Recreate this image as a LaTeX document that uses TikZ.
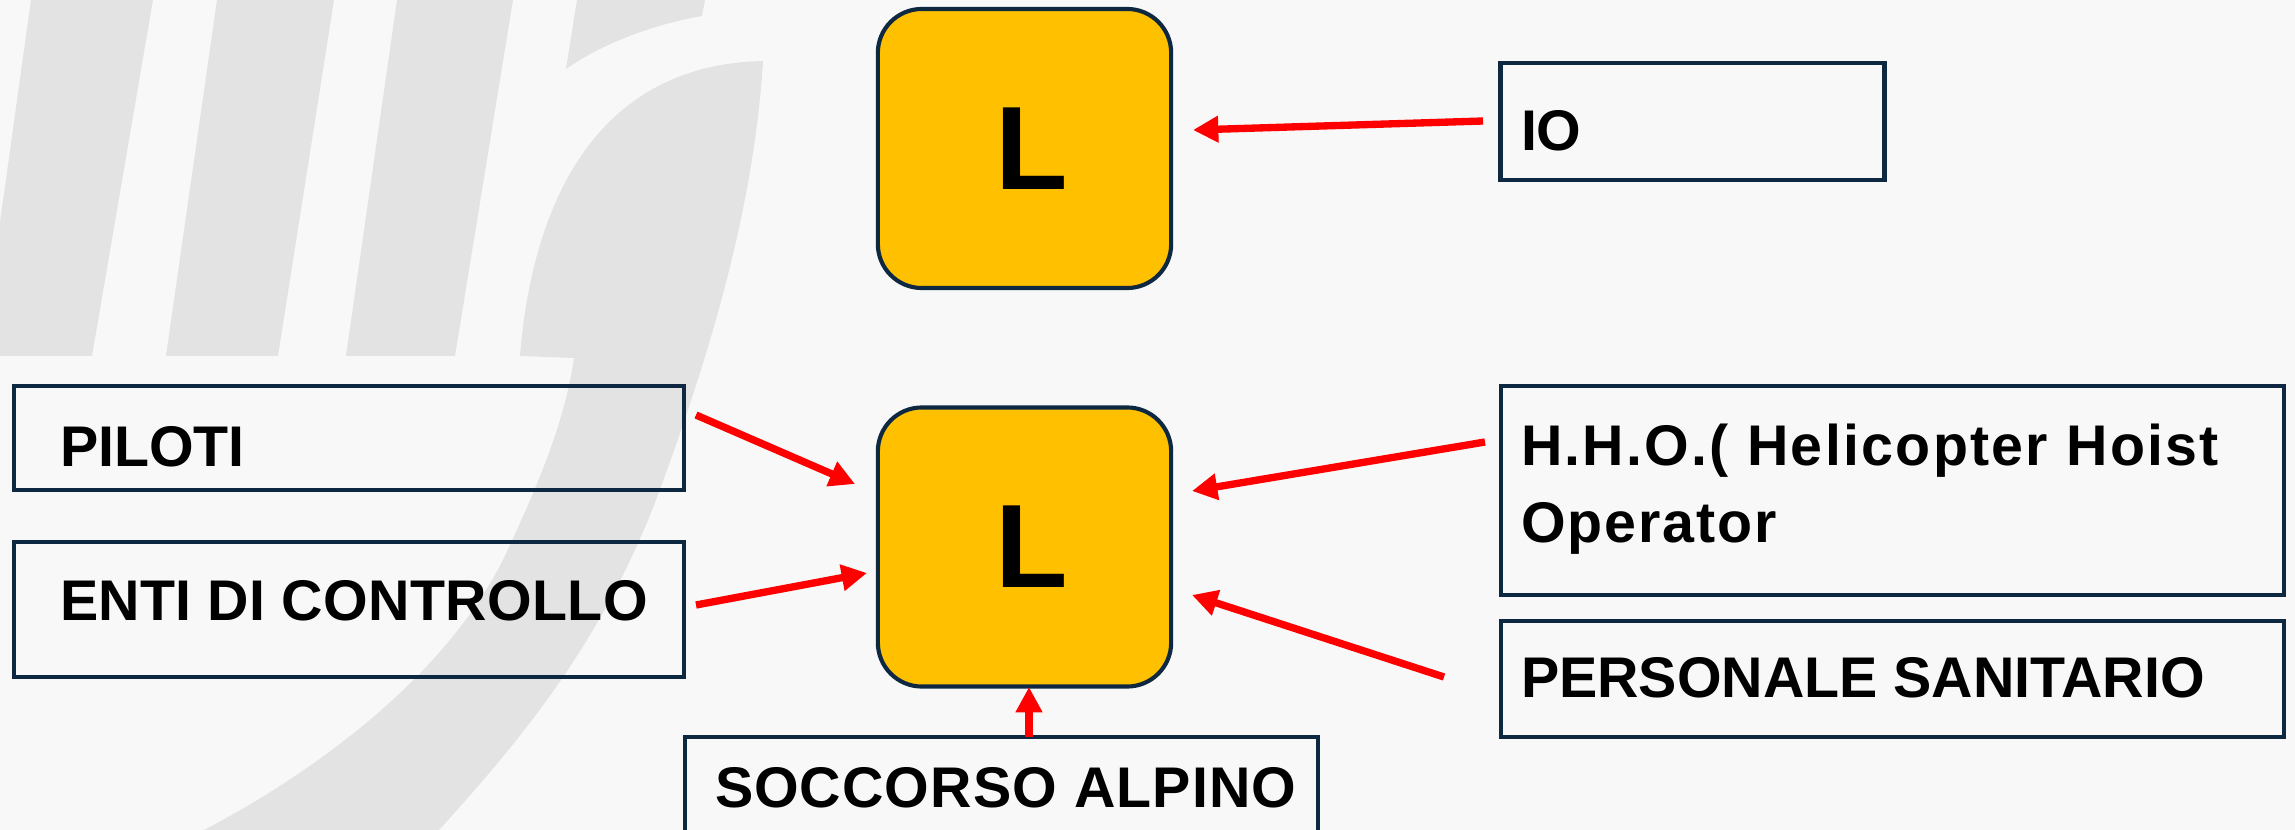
\documentclass[tikz,border=0pt]{standalone}
\usepackage{xcolor}
\usepackage{tikz}
\usepackage{fontspec}
\setmainfont{Liberation Sans}
\usetikzlibrary{arrows.meta}

\definecolor{pagebg}{RGB}{248,248,248}
\definecolor{markgray}{RGB}{227,227,227}
\definecolor{boxline}{RGB}{14,40,65}
\definecolor{amber}{RGB}{255,192,0}

\tikzset{
  labelbox/.style={draw=boxline,line width=3.1pt,inner sep=0pt,outer sep=0pt},
  labeltext/.style={inner sep=0pt,outer sep=0pt,anchor=base west,font=\fontsize{43}{57.75}\selectfont\bfseries,align=left,text=black},
  levelbox/.style={labelbox,fill=amber,rounded corners=33pt,minimum width=220pt,minimum height=209.3pt,font=\fontsize{89}{89}\selectfont\bfseries,text=black},
  redarrow/.style={draw=red,line width=5.5pt,-{Triangle[length=19pt,width=19pt]}}
}

\begin{document}
\begin{tikzpicture}[x=0.75pt,y=0.75pt,yscale=-1]
\useasboundingbox (0,0) rectangle (2295,830);
\clip (0,0) rectangle (2295,830);
\fill[pagebg] (0,0) rectangle (2295,830);

%Shape: watermark stripes
\fill[markgray] (31,0) -- (153,0) -- (92,356) -- (0,356) -- (0,222) -- cycle ;
\fill[markgray] (217,0) -- (334,0) -- (278,356) -- (166,356) -- cycle ;
\fill[markgray] (397,0) -- (513,0) -- (455,356) -- (346,356) -- cycle ;
\fill[markgray] (577,0) -- (705,0) -- (702,16) .. controls (650,25) and (600,45) .. (566,69) -- cycle ;
%Shape: watermark hook
\fill[markgray] (763,61) .. controls (755,190) and (720,330) .. (653,508) .. controls (600,640) and (530,730) .. (439,830) -- (204,830) .. controls (300,780) and (450,680) .. (510,545) .. controls (540,480) and (565,420) .. (574,358) -- (520,356) .. controls (530,230) and (580,65) .. (763,61) -- cycle ;

%Shape: level boxes
\node[levelbox] (levelTop) at (1024.5,148.5) {\hspace*{11pt}L};
\node[levelbox] (levelBottom) at (1024.5,547) {\hspace*{11pt}L};

%Shape: label boxes
\node[labelbox,minimum width=503pt,minimum height=77.5pt] (pilotiBox) at (349,438) {};
\node[labelbox,minimum width=503pt,minimum height=101.5pt] (entiBox) at (349,609.5) {};
\node[labelbox,minimum width=474.5pt,minimum height=120pt] (soccorsoBox) at (1001.5,817) {};
\node[labelbox,minimum width=288pt,minimum height=87.5pt] (ioBox) at (1692.5,121.5) {};
\node[labelbox,minimum width=587.5pt,minimum height=157pt] (hhoBox) at (1892.5,490.5) {};
\node[labelbox,minimum width=587.5pt,minimum height=87.5pt] (sanitarioBox) at (1892.5,679) {};

% Text Node
\node[labeltext] (pilotiText) at (60,466) {PILOTI};
\node[labeltext] (entiText) at (60,620) {\addfontfeature{LetterSpace=0.6}ENTI DI CONTROLLO};
\node[labeltext] (soccorsoText) at (715,807) {\addfontfeature{LetterSpace=1.9}SOCCORSO ALPINO};
\node[labeltext] (ioText) at (1521,151) {IO};
\node[labeltext] (hhoText) at (1521,542) {\addfontfeature{LetterSpace=4.0}H.H.O.( Helicopter Hoist\\\addfontfeature{LetterSpace=3.5}Operator};
\node[labeltext] (sanitarioText) at (1521,697) {PERSONALE SANITARIO};

%Arrow ends
\coordinate (ioStart) at (1483,121);
\coordinate (ioTip) at (1193,130);
\coordinate (pilotiStart) at (696,415);
\coordinate (pilotiTip) at (855,484);
\coordinate (entiStart) at (696,605);
\coordinate (entiTip) at (867,573);
\coordinate (hhoStart) at (1485,442);
\coordinate (hhoTip) at (1192,491);
\coordinate (sanitarioStart) at (1444,677);
\coordinate (sanitarioTip) at (1192,595);
\coordinate (soccorsoTip) at (1029,687);
\coordinate (soccorsoStart) at (1029,737);

\draw[redarrow] (ioStart) -- (ioTip);
\draw[redarrow] (pilotiStart) -- (pilotiTip);
\draw[redarrow] (entiStart) -- (entiTip);
\draw[redarrow] (hhoStart) -- (hhoTip);
\draw[redarrow] (sanitarioStart) -- (sanitarioTip);
\draw[redarrow] (soccorsoStart) -- (soccorsoTip);

\end{tikzpicture}
\end{document}
